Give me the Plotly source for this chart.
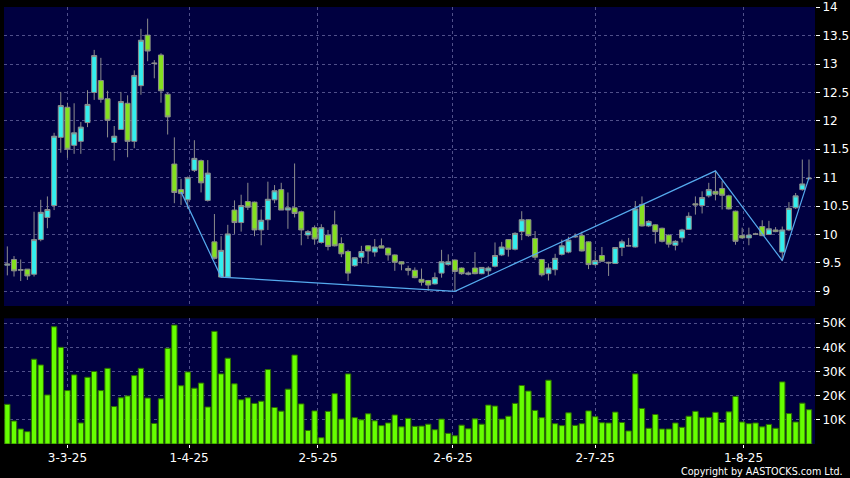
import plotly.graph_objects as go

# ---- data ----
opens = [9.46, 9.56, 9.37, 9.39, 9.30, 9.91, 10.30, 10.51, 11.71, 12.24,
         11.57, 11.64, 11.97, 12.50, 12.71, 12.39, 11.62, 11.85, 12.31, 11.64,
         12.62, 13.51, 13.02, 13.16, 12.47, 11.24, 10.79, 10.61, 11.13, 11.30,
         10.60, 9.87, 9.25, 9.25, 10.43, 10.21, 10.58, 10.57, 10.08, 10.26,
         10.61, 10.79, 10.43, 10.47, 10.40, 9.99, 10.12, 9.86, 9.99, 10.17,
         9.84, 9.70, 9.45, 9.60, 9.80, 9.69, 9.80, 9.76, 9.64, 9.52,
         9.40, 9.37, 9.21, 9.19, 9.13, 9.32, 9.47, 9.55, 9.41, 9.30,
         9.41, 9.31, 9.36, 9.44, 9.64, 9.91, 9.74, 10.05, 10.26, 9.93,
         9.56, 9.31, 9.38, 9.65, 9.69, 9.97, 9.98, 9.87, 9.47, 9.63,
         9.51, 9.49, 9.77, 9.80, 9.78, 10.53, 10.15, 10.17, 10.11, 9.99,
         9.81, 9.94, 10.09, 10.54, 10.51, 10.68, 10.76, 10.81, 10.68, 10.41,
         9.98, 9.94, 10.00, 10.14, 10.00, 10.08, 9.69, 10.08, 10.47, 10.79,
         10.98]
highs = [9.79, 9.62, 9.56, 9.39, 10.40, 10.61, 10.67, 11.79, 12.51, 12.32,
         12.31, 11.98, 12.54, 13.25, 13.11, 12.53, 11.91, 12.51, 12.45, 12.89,
         13.62, 13.80, 13.07, 13.19, 12.50, 11.71, 10.98, 11.02, 11.66, 11.32,
         11.31, 10.36, 9.97, 10.17, 10.60, 10.70, 10.91, 10.58, 10.44, 10.93,
         10.87, 10.91, 10.74, 11.25, 10.42, 10.08, 10.16, 10.18, 10.08, 10.42,
         9.95, 9.73, 9.60, 9.80, 9.81, 9.92, 9.93, 9.77, 9.65, 9.53,
         9.45, 9.42, 9.40, 9.20, 9.33, 9.73, 9.65, 9.56, 9.42, 9.35,
         9.69, 9.42, 9.44, 9.86, 9.87, 9.92, 10.04, 10.41, 10.27, 10.06,
         9.57, 9.49, 9.66, 9.91, 9.96, 10.02, 10.05, 9.88, 9.71, 9.78,
         9.52, 9.77, 9.91, 9.94, 10.59, 10.67, 10.25, 10.18, 10.12, 10.00,
         9.90, 10.10, 10.39, 10.67, 10.76, 10.91, 11.12, 10.94, 10.70, 10.42,
         10.12, 10.12, 10.03, 10.25, 10.24, 10.13, 10.14, 10.57, 10.73, 11.32,
         11.32]
lows = [9.28, 9.26, 9.18, 9.20, 9.26, 9.88, 10.11, 10.43, 11.44, 11.35,
        11.42, 11.42, 11.89, 12.37, 12.32, 11.71, 11.30, 11.85, 11.36, 11.52,
        12.46, 13.05, 12.75, 12.32, 11.76, 10.55, 10.52, 10.45, 11.10, 10.74,
        10.58, 9.56, 9.24, 9.24, 10.01, 10.05, 10.43, 9.97, 9.81, 10.08,
        10.55, 10.43, 10.10, 10.30, 9.81, 9.92, 9.82, 9.84, 9.72, 9.79,
        9.60, 9.18, 9.43, 9.49, 9.48, 9.61, 9.76, 9.54, 9.36, 9.37,
        9.28, 9.23, 9.10, 9.01, 9.12, 9.24, 9.45, 8.99, 9.29, 9.28,
        9.30, 9.30, 9.27, 9.42, 9.62, 9.61, 9.72, 9.90, 9.96, 9.55,
        9.26, 9.19, 9.28, 9.63, 9.67, 9.94, 9.70, 9.39, 9.45, 9.52,
        9.27, 9.48, 9.62, 9.79, 9.77, 10.14, 10.13, 9.84, 9.86, 9.77,
        9.72, 9.86, 10.08, 10.35, 10.37, 10.65, 10.60, 10.44, 10.44, 9.82,
        9.92, 9.81, 9.99, 9.97, 9.99, 10.04, 9.53, 10.06, 10.45, 10.77,
        10.97]
closes = [9.48, 9.36, 9.38, 9.27, 9.91, 10.39, 10.44, 11.73, 12.27, 11.50,
          11.79, 11.89, 12.29, 13.15, 12.38, 12.01, 11.73, 12.34, 11.64, 12.80,
          13.42, 13.23, 13.01, 12.53, 12.07, 10.74, 10.72, 11.00, 11.34, 10.91,
          11.08, 9.58, 9.72, 10.01, 10.21, 10.51, 10.48, 10.08, 10.25, 10.62,
          10.77, 10.43, 10.47, 10.37, 10.08, 10.05, 9.92, 10.12, 9.79, 9.80,
          9.66, 9.32, 9.59, 9.70, 9.71, 9.78, 9.76, 9.64, 9.51, 9.48,
          9.37, 9.24, 9.16, 9.11, 9.24, 9.52, 9.52, 9.35, 9.31, 9.32,
          9.31, 9.42, 9.41, 9.63, 9.78, 9.74, 10.02, 10.26, 9.98, 9.60,
          9.29, 9.41, 9.58, 9.80, 9.90, 9.96, 9.71, 9.47, 9.54, 9.53,
          9.50, 9.77, 9.87, 9.80, 10.45, 10.15, 10.23, 10.05, 9.88, 9.83,
          9.88, 10.08, 10.32, 10.52, 10.65, 10.79, 10.71, 10.69, 10.45, 9.88,
          9.94, 9.99, 10.01, 9.98, 10.10, 10.05, 10.08, 10.46, 10.68, 10.89,
          10.99]
volumes_k = [16.4, 9.5, 6.2, 5.1, 35.1, 32.7, 20.3, 48.5, 40.0, 22.1,
             28.6, 8.7, 27.6, 30.0, 22.1, 31.3, 15.5, 19.1, 19.9, 28.3,
             31.3, 19.0, 8.5, 18.7, 39.6, 49.2, 24.1, 29.8, 23.1, 25.2,
             15.3, 46.6, 29.0, 35.5, 24.9, 18.3, 19.1, 16.8, 17.7, 30.8,
             15.1, 13.6, 22.7, 36.8, 16.6, 5.6, 13.7, 2.6, 13.5, 20.8,
             10.3, 29.0, 10.9, 10.0, 12.5, 9.6, 7.6, 8.7, 12.0, 7.1,
             10.6, 7.3, 7.4, 8.2, 5.9, 10.3, 4.4, 3.4, 7.8, 6.3,
             10.4, 8.2, 16.1, 15.7, 10.3, 11.5, 16.8, 24.2, 21.9, 13.9,
             10.9, 26.4, 8.4, 7.6, 12.9, 7.7, 8.4, 13.7, 11.3, 8.8,
             8.7, 13.2, 8.9, 5.4, 29.0, 14.7, 6.5, 12.2, 6.2, 6.2,
             8.7, 6.9, 11.5, 13.5, 10.9, 11.0, 13.1, 8.9, 13.3, 19.7,
             9.1, 8.4, 8.7, 7.1, 8.1, 6.5, 25.7, 12.6, 9.1, 16.9,
             14.2]
volumes = [v * 1000 for v in volumes_k]

# zigzag indicator pivots (bar index, price)
zz_index = [26, 32, 67, 106, 116, 120]
zz_price = [10.75, 9.25, 9.00, 11.12, 9.54, 11.00]

# date axis labels and their bar positions
date_labels = ["3-3-25", "1-4-25", "2-5-25", "2-6-25", "2-7-25", "1-8-25"]
date_pos = [9.0, 27.2, 46.5, 66.7, 88.0, 110.2]

price_ticks = [9, 9.5, 10, 10.5, 11, 11.5, 12, 12.5, 13, 13.5, 14]
price_labels = ["9", "9.5", "10", "10.5", "11", "11.5", "12", "12.5", "13", "13.5", "14"]
vol_ticks = [10000, 20000, 30000, 40000, 50000]
vol_labels = ["10K", "20K", "30K", "40K", "50K"]

idx = list(range(len(opens)))

# ---- styling ----
BG = "#000040"
GRID = "#50508a"
FONT = "DejaVu Sans"

fig = go.Figure()

fig.add_trace(go.Candlestick(
    x=idx, open=opens, high=highs, low=lows, close=closes,
    xaxis="x2", yaxis="y2",
    increasing=dict(fillcolor="#33eeee", line=dict(color="#8c8c8c", width=1)),
    decreasing=dict(fillcolor="#84e020", line=dict(color="#8c8c8c", width=1)),
    whiskerwidth=0, showlegend=False, hoverinfo="skip",
))

fig.add_trace(go.Scatter(
    x=zz_index, y=zz_price, mode="lines", xaxis="x2", yaxis="y2",
    line=dict(color="#55aaee", width=1.2), showlegend=False, hoverinfo="skip",
))

fig.add_trace(go.Bar(
    x=idx, y=volumes, xaxis="x", yaxis="y",
    marker=dict(color="#66ff00", line=dict(color="#2d6e00", width=1)),
    showlegend=False, hoverinfo="skip",
))

axis_font = dict(family=FONT, size=12, color="white")
grid_kw = dict(showgrid=True, gridcolor=GRID, griddash="3px,3px", gridwidth=1,
               zeroline=False, showline=False, automargin=False)

fig.update_layout(
    width=850, height=478,
    margin=dict(l=4, r=35, t=7, b=34),
    paper_bgcolor="black", plot_bgcolor=BG,
    bargap=0.2, boxgap=0.25, boxgroupgap=0,
    font=dict(family=FONT, color="white"),
    hovermode=False,
    xaxis=dict(
        domain=[0, 1], anchor="y", range=[-0.5, 120.9],
        tickvals=date_pos, ticktext=date_labels, tickfont=axis_font,
        ticks="outside", ticklen=3, tickcolor="white", **grid_kw,
    ),
    yaxis=dict(
        domain=[0, 0.2876], range=[0, 52000], side="right",
        tickvals=vol_ticks, ticktext=vol_labels, tickfont=axis_font,
        ticks="outside", ticklen=4, tickcolor="white", **grid_kw,
    ),
    xaxis2=dict(
        domain=[0, 1], anchor="y2", matches="x", range=[-0.5, 120.9],
        tickvals=date_pos, showticklabels=False, ticks="",
        rangeslider=dict(visible=False), **grid_kw,
    ),
    yaxis2=dict(
        domain=[0.3158, 1], range=[8.741, 14.005], side="right",
        tickvals=price_ticks, ticktext=price_labels, tickfont=axis_font,
        ticks="outside", ticklen=4, tickcolor="white", **grid_kw,
    ),
    annotations=[dict(
        text="Copyright by AASTOCKS.com Ltd.", xref="paper", yref="paper",
        x=1.037, y=-0.0634, xanchor="right", yanchor="middle",
        showarrow=False, font=dict(family=FONT, size=9.6, color="white"),
    )],
)

fig.write_html(
    "out.html",
    config={"displayModeBar": False},
    post_script="document.body.style.margin='0';document.body.style.padding='0';"
                "document.body.style.background='black';",
)
